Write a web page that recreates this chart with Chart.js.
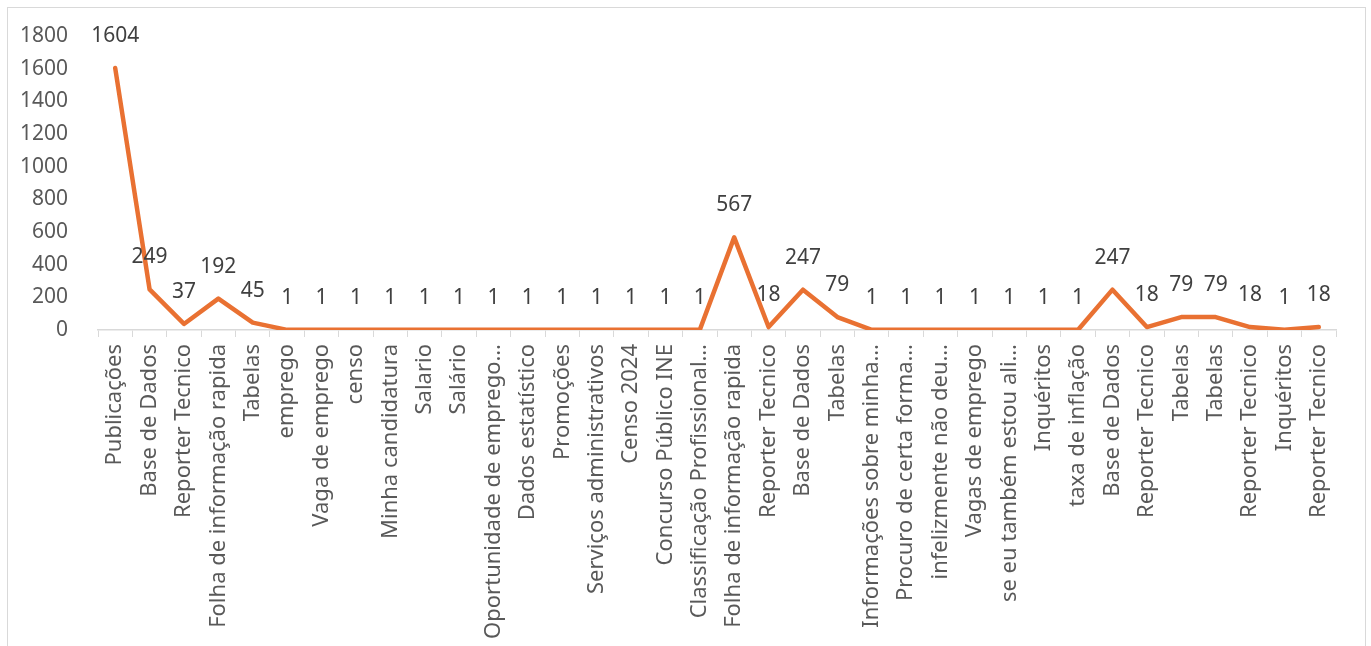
<!DOCTYPE html>
<html>
<head>
<meta charset="utf-8">
<style>
  html, body { margin: 0; padding: 0; background: #fff; overflow: hidden; }
  #frame { position: absolute; left: 7px; top: 7px; width: 1357px; height: 700px; border: 1px solid #d9d9d9; }
  #wrap { position: absolute; left: 0; top: 0; width: 1371px; height: 646px; }
</style>
<script src="https://cdn.jsdelivr.net/npm/chart.js@4.4.1/dist/chart.umd.min.js"></script>
</head>
<body>
<div id="frame"></div>
<div id="wrap"><canvas id="chart" width="1371" height="646"></canvas></div>
<script>
// categories as shown on the axis (long ones are cut off in the source)
var categories = [
    "Publicações", "Base de Dados", "Reporter Tecnico", "Folha de informação rapida", "Tabelas",
    "emprego", "Vaga de emprego", "censo", "Minha candidatura", "Salario", "Salário",
    "Oportunidade de emprego…", "Dados estatístico", "Promoções", "Serviços administrativos",
    "Censo 2024", "Concurso Público INE", "Classificação Profissional…",
    "Folha de informação rapida", "Reporter Tecnico", "Base de Dados", "Tabelas",
    "Informações sobre minha…", "Procuro de certa forma…", "infelizmente não deu…",
    "Vagas de emprego", "se eu também estou ali…", "Inquéritos", "taxa de inflação",
    "Base de Dados", "Reporter Tecnico", "Tabelas", "Tabelas", "Reporter Tecnico",
    "Inquéritos", "Reporter Tecnico"
];
var counts = [
    1604, 249, 37, 192, 45,
    1, 1, 1, 1, 1, 1, 1, 1, 1, 1, 1, 1, 1,
    567, 18, 247, 79,
    1, 1, 1, 1, 1, 1, 1,
    247, 18, 79, 79, 18, 1, 18
];
var yTicks = [0, 200, 400, 600, 800, 1000, 1200, 1400, 1600, 1800];

var FONT = "'Noto Sans', 'Liberation Sans', sans-serif";

// draws the value above every point, like Excel's "above" data labels
var valueLabels = {
    id: "valueLabels",
    afterDatasetsDraw: function (chart) {
        var ctx = chart.ctx;
        var meta = chart.getDatasetMeta(0);
        ctx.save();
        ctx.font = "21px " + FONT;
        ctx.fillStyle = "#404040";
        ctx.textAlign = "center";
        ctx.textBaseline = "middle";
        meta.data.forEach(function (pt, i) {
            ctx.fillText(String(counts[i]), pt.x, pt.y - 32);
        });
        ctx.restore();
    }
};

new Chart(document.getElementById("chart"), {
    type: "line",
    data: {
        labels: categories,
        datasets: [{
            data: counts,
            borderColor: "#E97132",
            borderWidth: 4.5,
            borderJoinStyle: "round",
            borderCapStyle: "round",
            pointRadius: 0,
            pointHoverRadius: 0,
            tension: 0,
            fill: false
        }]
    },
    options: {
        responsive: false,
        animation: false,
        layout: { padding: { top: 36, right: 35, left: 0, bottom: 0 } },
        plugins: { legend: { display: false }, tooltip: { enabled: false } },
        scales: {
            x: {
                offset: true,
                grid: { drawOnChartArea: false, drawTicks: true, tickLength: 7, offset: true, color: "#d9d9d9" },
                border: { display: true, color: "#d9d9d9", width: 1.5 },
                ticks: {
                    autoSkip: false, maxRotation: 90, minRotation: 90, padding: 7,
                    color: "#595959", font: { family: FONT, size: 22 }
                },
                afterFit: function (s) { s.height = 316; }
            },
            y: {
                min: 0, max: 1800,
                afterBuildTicks: function (s) { s.ticks = yTicks.map(function (v) { return { value: v }; }); },
                grid: { display: false },
                border: { display: false },
                ticks: {
                    padding: 22, color: "#595959", font: { family: FONT, size: 21 },
                    callback: function (v) { return String(v); }
                },
                afterFit: function (s) { s.width = 98; }
            }
        }
    },
    plugins: [valueLabels]
});
</script>
</body>
</html>
